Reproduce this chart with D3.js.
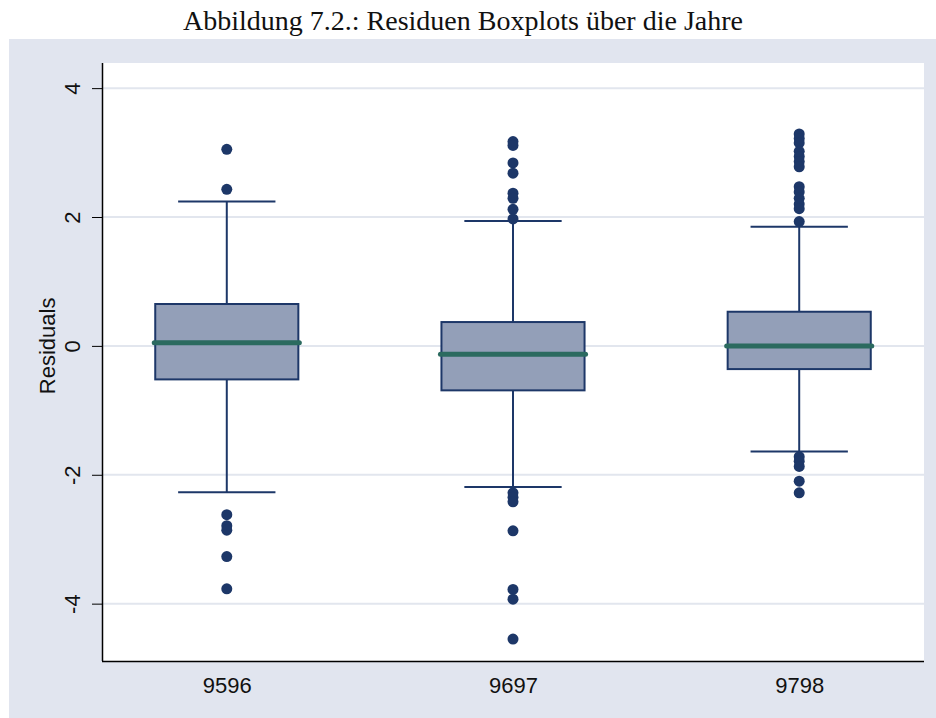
<!DOCTYPE html>
<html>
<head>
<meta charset="utf-8">
<script src="https://cdn.jsdelivr.net/npm/d3@7"></script>
<style>
  body { margin: 0; background: #ffffff; }
  svg { display: block; }
</style>
</head>
<body>
<div class="container"></div>
<script>
// data
var years = ['9596', '9697', '9798'];
var q1 = [-0.52, -0.69, -0.36];
var median = [0.05, -0.13, 0.0];
var q3 = [0.65, 0.37, 0.53];
var whiskerLow = [-2.27, -2.19, -1.64];
var whiskerHigh = [2.24, 1.94, 1.85];
var outliers9596 = [3.05, 2.43, -2.62, -2.79, -2.86, -3.27, -3.77];
var outliers9697 = [3.17, 3.11, 2.84, 2.68, 2.37, 2.29, 2.12, 1.97,
                    -2.28, -2.35, -2.42, -2.87, -3.78, -3.93, -4.55];
var outliers9798 = [3.29, 3.22, 3.15, 3.02, 2.94, 2.86, 2.78, 2.47, 2.39, 2.29,
                    2.2, 2.13, 1.93, -1.72, -1.79, -1.87, -2.1, -2.28];
var outliers = [outliers9596, outliers9697, outliers9798];
var yTicks = [-4, -2, 0, 2, 4];

var drawChart = function () {
    const WIDTH = 936;
    const HEIGHT = 718;
    var plot = { left: 102, right: 924, top: 63, bottom: 661 };
    var sans = '"Liberation Sans", Arial, sans-serif';

    var svg = d3.select('.container')
        .append('svg')
        .attr('width', WIDTH)
        .attr('height', HEIGHT);

    // title
    svg.append('text')
        .attr('x', 463)
        .attr('y', 30)
        .attr('text-anchor', 'middle')
        .style('font-family', '"Liberation Serif", "Times New Roman", serif')
        .style('font-size', '28px')
        .style('fill', '#111')
        .text('Abbildung 7.2.: Residuen Boxplots über die Jahre');

    // outer grey panel
    svg.append('rect')
        .attr('x', 9)
        .attr('y', 39)
        .attr('width', WIDTH - 9)
        .attr('height', HEIGHT - 39)
        .style('fill', '#e1e5ef');

    svg.append('rect')
        .attr('x', plot.left)
        .attr('y', plot.top)
        .attr('width', plot.right - plot.left)
        .attr('height', plot.bottom - plot.top)
        .style('fill', '#ffffff');

    var x = d3.scalePoint()
        .domain(years)
        .range([plot.left, plot.right])
        .padding(0.436);

    var y = d3.scaleLinear()
        .domain([-4.89, 4.39])
        .range([plot.bottom, plot.top]);

    var step = x.step();
    var boxW = step * 0.5;
    var capW = step * 0.34;

    // grid
    svg.append('g')
        .selectAll('line')
        .data(yTicks)
        .join('line')
        .attr('x1', plot.left)
        .attr('x2', plot.right)
        .attr('y1', function (d) { return y(d); })
        .attr('y2', function (d) { return y(d); })
        .style('stroke', '#e2e6ee')
        .style('stroke-width', 2);

    // y axis
    var yAxis = svg.append('g')
        .attr('transform', 'translate(' + plot.left + ',0)')
        .call(d3.axisLeft(y).tickValues(yTicks).tickSize(10).tickPadding(0).tickFormat(d3.format('d')));
    yAxis.select('.domain').attr('d', 'M0.5,' + plot.top + 'V' + plot.bottom).style('stroke', '#000').style('stroke-width', 1.5);
    yAxis.selectAll('.tick line').style('stroke', '#000');
    yAxis.selectAll('.tick text')
        .attr('x', null)
        .attr('dy', null)
        .attr('transform', 'translate(-22,0) rotate(-90)')
        .attr('text-anchor', 'middle')
        .style('font-family', sans)
        .style('font-size', '22px')
        .style('fill', '#111')
        .text(function (d) { return d < 0 ? '-' + Math.abs(d) : d; });

    svg.append('text')
        .attr('transform', 'translate(55,' + y(0) + ') rotate(-90)')
        .attr('text-anchor', 'middle')
        .style('font-family', sans)
        .style('font-size', '22px')
        .style('fill', '#111')
        .text('Residuals');

    // x axis
    var xAxis = svg.append('g')
        .attr('transform', 'translate(0,' + plot.bottom + ')')
        .call(d3.axisBottom(x).tickSize(0).tickPadding(16));
    xAxis.select('.domain').attr('d', 'M' + plot.left + ',0.5H' + plot.right).style('stroke', '#000').style('stroke-width', 1.5);
    xAxis.selectAll('.tick text')
        .style('font-family', sans)
        .style('font-size', '22px')
        .style('fill', '#111');

    var boxes = svg.append('g')
        .selectAll('g')
        .data(years)
        .join('g');

    var navy = '#1d3768';

    // whiskers
    boxes.append('line')
        .attr('x1', function (d) { return x(d); })
        .attr('x2', function (d) { return x(d); })
        .attr('y1', function (d, i) { return y(whiskerHigh[i]); })
        .attr('y2', function (d, i) { return y(whiskerLow[i]); })
        .style('stroke', navy)
        .style('stroke-width', 2);

    boxes.append('line')
        .attr('x1', function (d) { return x(d) - capW / 2; })
        .attr('x2', function (d) { return x(d) + capW / 2; })
        .attr('y1', function (d, i) { return y(whiskerHigh[i]); })
        .attr('y2', function (d, i) { return y(whiskerHigh[i]); })
        .style('stroke', navy)
        .style('stroke-width', 2);

    boxes.append('line')
        .attr('x1', function (d) { return x(d) - capW / 2; })
        .attr('x2', function (d) { return x(d) + capW / 2; })
        .attr('y1', function (d, i) { return y(whiskerLow[i]); })
        .attr('y2', function (d, i) { return y(whiskerLow[i]); })
        .style('stroke', navy)
        .style('stroke-width', 2);

    boxes.append('rect')
        .attr('x', function (d) { return x(d) - boxW / 2; })
        .attr('y', function (d, i) { return y(q3[i]); })
        .attr('width', boxW)
        .attr('height', function (d, i) { return y(q1[i]) - y(q3[i]); })
        .style('fill', '#939fb8')
        .style('stroke', navy)
        .style('stroke-width', 2);

    boxes.append('line')
        .attr('x1', function (d) { return x(d) - boxW / 2 - 1; })
        .attr('x2', function (d) { return x(d) + boxW / 2 + 1; })
        .attr('y1', function (d, i) { return y(median[i]); })
        .attr('y2', function (d, i) { return y(median[i]); })
        .style('stroke', '#2b6a5f')
        .style('stroke-width', 5)
        .style('stroke-linecap', 'round');

    // outside values
    boxes.selectAll('circle')
        .data(function (d, i) { return outliers[i].map(function (v) { return { year: d, value: v }; }); })
        .join('circle')
        .attr('cx', function (d) { return x(d.year); })
        .attr('cy', function (d) { return y(d.value); })
        .attr('r', 5.5)
        .style('fill', navy);
};
window.onload = drawChart;
</script>
</body>
</html>
